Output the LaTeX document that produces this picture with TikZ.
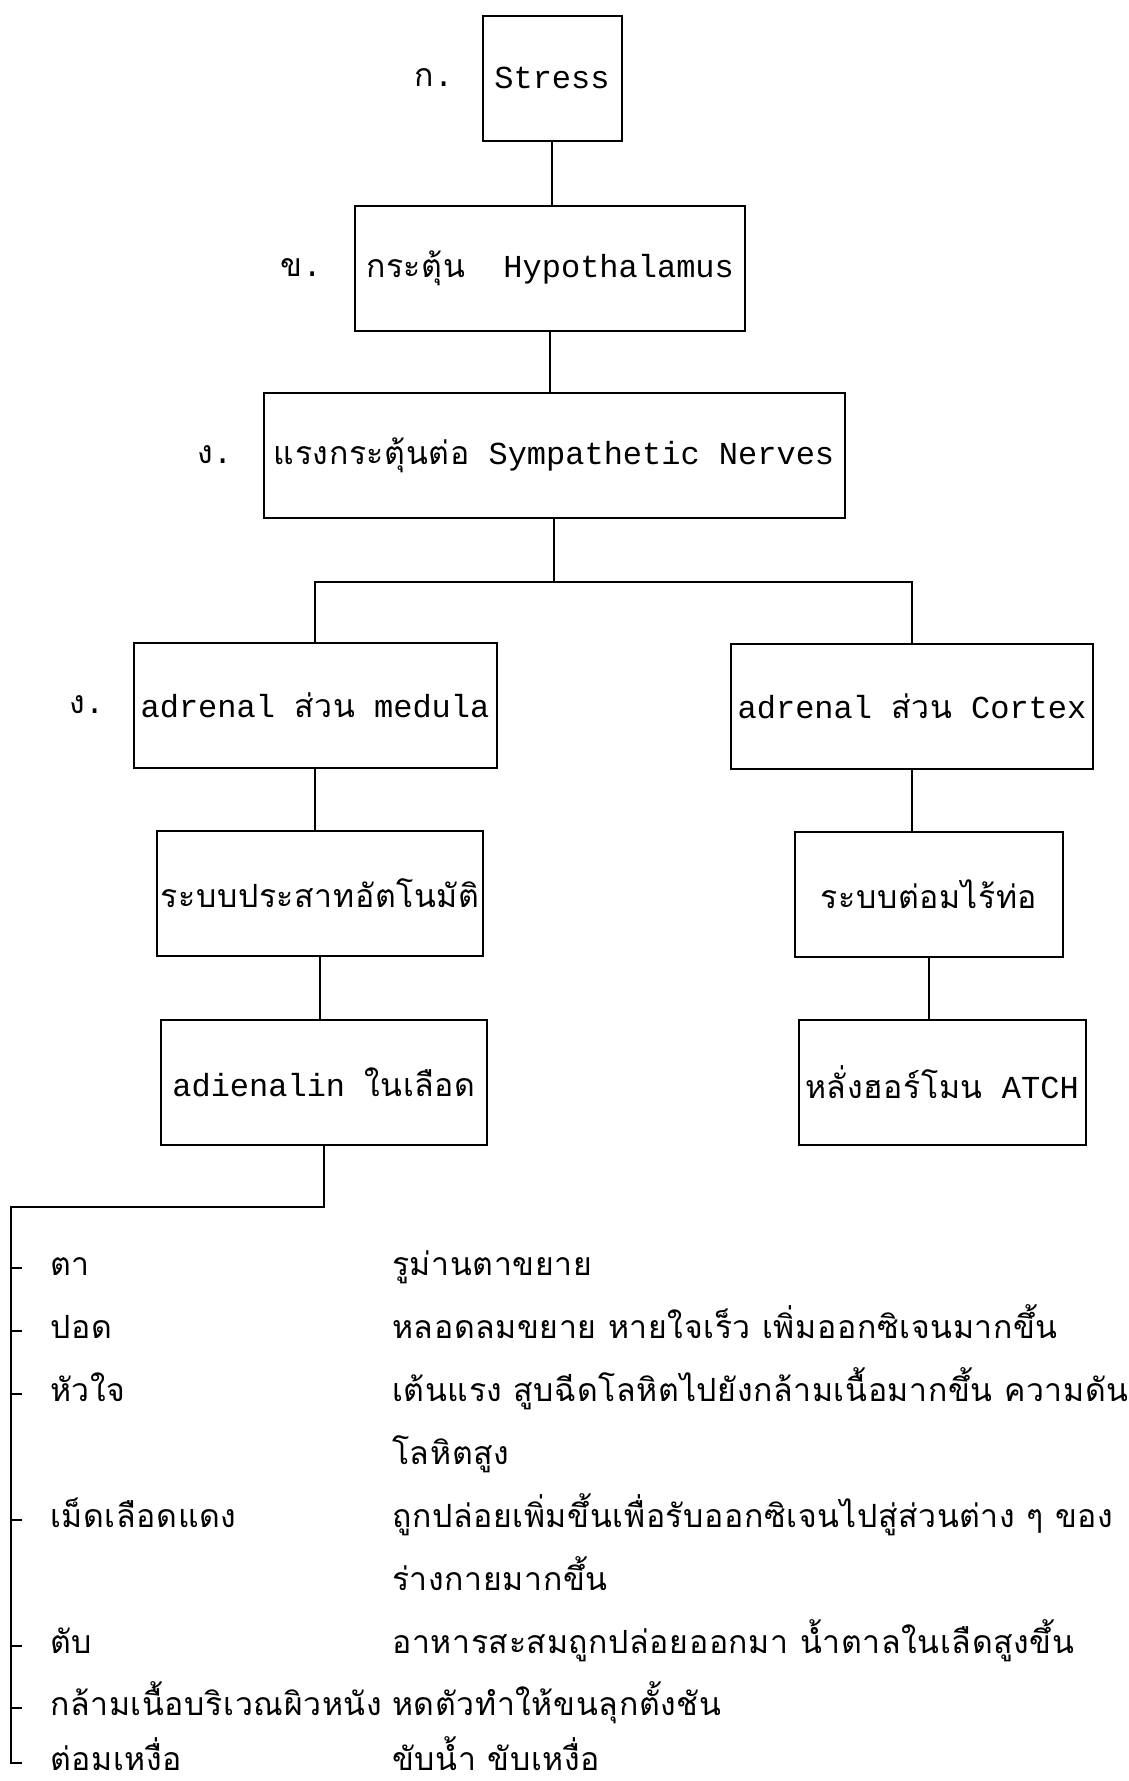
\documentclass[tikz,border=0pt]{standalone}
\usepackage{fontspec}
\setmainfont{Liberation Mono}
\newfontfamily\thai[Script=Thai,LetterSpace=2]{Loma}
\usetikzlibrary{positioning}

\tikzset{
  box/.style={draw, line width=2pt, minimum height=125pt, inner sep=0pt},
  lbl/.style={inner sep=0pt},
  item/.style={anchor=west, inner sep=0pt, text height=20pt, text depth=6pt},
  link/.style={line width=2pt},
}

\begin{document}
\begin{tikzpicture}[x=1pt,y=-1pt,font=\fontsize{32}{38}\selectfont]
\useasboundingbox (0,0) rectangle (1128,1781);

% chain of boxes
\node[box, minimum width=139pt] (stress) at (552,78) {Stress};
\node[box, minimum width=390pt] (hypo) at (550,268) {{\thai กระตุ้น}\ \ Hypothalamus};
\node[box, minimum width=581pt] (symp) at (554,455) {{\thai แรงกระตุ้นต่อ} Sympathetic Nerves};
\node[box, minimum width=363pt] (medula) at (315,705) {adrenal {\thai ส่วน} medula};
\node[box, minimum width=362pt] (cortex) at (912,706) {adrenal {\thai ส่วน} Cortex};
\node[box, minimum width=326pt] (auto) at (320,893) {\thai ระบบประสาทอัตโนมัติ};
\node[box, minimum width=326pt] (adren) at (324,1082) {adienalin {\thai ในเลือด}};
\node[box, minimum width=268pt] (endo) at (929,894) {\thai ระบบต่อมไร้ท่อ};
\node[box, minimum width=287pt] (acth) at (942,1082) {{\thai หลั่งฮอร์โมน} ATCH};

\node[lbl, left=28pt of stress] (ka) {{\thai ก}.};
\node[lbl, left=32pt of hypo] (kho) {{\thai ข}.};
\node[lbl, left=30pt of symp] (ngo) {{\thai ง}.};
\node[lbl, left=28pt of medula] (ngo2) {{\thai ง}.};

\draw[link] (stress.south) -- (stress.south |- hypo.north);
\draw[link] (hypo.south) -- (hypo.south |- symp.north);
\coordinate (fork) at (554,582);
\draw[link] (symp.south) -- (fork);
\draw[link] (medula.north) |- (fork) -| (cortex.north);
\draw[link] (medula.south) -- (medula.south |- auto.north);
\draw[link] (auto.south) -- (auto.south |- adren.north);
\draw[link] (cortex.south) -- (cortex.south |- endo.north);
\draw[link] (endo.south) -- (endo.south |- acth.north);

% effects list
\node[item] (eye) at (50,1268) {\thai ตา};
\node[item] (eyetxt) at (392,1268) {\thai รูม่านตาขยาย};
\node[item] (lung) at (50,1331) {\thai ปอด};
\node[item] (lungtxt) at (392,1331) {\thai หลอดลมขยาย หายใจเร็ว เพิ่มออกซิเจนมากขึ้น};
\node[item] (heart) at (50,1394) {\thai หัวใจ};
\node[item] (hearttxt) at (392,1394) {\thai เต้นแรง สูบฉีดโลหิตไปยังกล้ามเนื้อมากขึ้น ความดัน};
\node[item] (heart2) at (392,1457) {\thai โลหิตสูง};
\node[item] (blood) at (50,1520) {\thai เม็ดเลือดแดง};
\node[item] (bloodtxt) at (392,1520) {\thai ถูกปล่อยเพิ่มขึ้นเพื่อรับออกซิเจนไปสู่ส่วนต่าง ๆ ของ};
\node[item] (blood2) at (392,1583) {\thai ร่างกายมากขึ้น};
\node[item] (liver) at (50,1646) {\thai ตับ};
\node[item] (livertxt) at (392,1646) {\thai อาหารสะสมถูกปล่อยออกมา น้ำตาลในเลืดสูงขึ้น};
\node[item] (skin) at (50,1708) {\thai กล้ามเนื้อบริเวณผิวหนัง};
\node[item] (skintxt) at (392,1708) {\thai หดตัวทำให้ขนลุกตั้งชัน};
\node[item] (sweat) at (50,1763) {\thai ต่อมเหงื่อ};
\node[item] (sweattxt) at (392,1763) {\thai ขับน้ำ ขับเหงื่อ};

\coordinate (brace) at (11,1207);
\draw[link] (adren.south) |- (brace) -- (brace |- sweat) -- ++(11,0);
\foreach \n in {eye,lung,heart,blood,liver,skin}
  \draw[link] (brace |- \n) -- ++(11,0);
\end{tikzpicture}
\end{document}
